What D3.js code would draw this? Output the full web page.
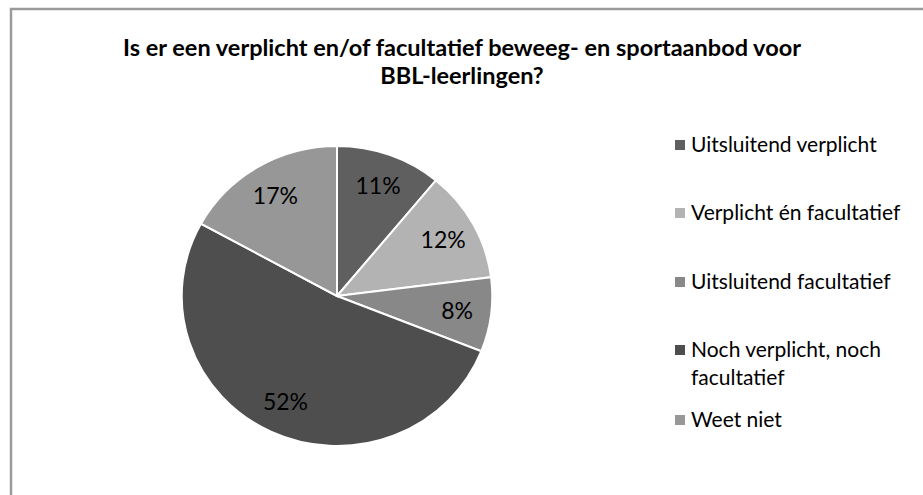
<!DOCTYPE html>
<html><head><meta charset="utf-8">
<script src="https://cdn.jsdelivr.net/npm/d3@7"></script>
<style>body{margin:0;background:#fff}svg{display:block}</style>
</head><body>
<svg id="c" width="923" height="495"></svg>
<script>
const categories = ["Uitsluitend verplicht","Verplicht én facultatief","Uitsluitend facultatief","Noch verplicht, noch facultatief","Weet niet"];
const values = [11,12,8,52,17];
const labels = ["11%","12%","8%","52%","17%"];
const colors = ["#5f5f5f","#b3b3b3","#888888","#4e4e4e","#979797"];
const titleLines = ["Is er een verplicht en/of facultatief beweeg- en sportaanbod  voor","BBL-leerlingen?"];
const legendLines = [["Uitsluitend verplicht"],["Verplicht én facultatief"],["Uitsluitend facultatief"],["Noch verplicht, noch","facultatief"],["Weet niet"]];

const svg = d3.select("#c");
svg.append("path").attr("d","M11,495 V9 H923").attr("fill","none").attr("stroke","#9a9a9a").attr("stroke-width",2.5);

svg.append("text").attr("x",462).attr("text-anchor","middle")
  .attr("font-family","Lato, 'Open Sans', sans-serif").attr("font-weight","bold").attr("font-size",23.5).attr("fill","#000")
  .selectAll("tspan").data(titleLines).join("tspan").attr("x",462).attr("y",(d,i)=>56+i*28).text(d=>d);

const cx=337, cy=296, r=150, sx=1.035;
const pie = d3.pie().sort(null).value(d=>d);
const arcs = pie(values);
const arc = d3.arc().innerRadius(0).outerRadius(r);
const g = svg.append("g").attr("transform",`translate(${cx},${cy}) scale(${sx},1)`);
g.selectAll("path").data(arcs).join("path").attr("d",arc).attr("fill",(d,i)=>colors[i])
  .attr("stroke","#fff").attr("stroke-width",2).attr("vector-effect","non-scaling-stroke");
const labelArc = d3.arc().innerRadius(r*0.78).outerRadius(r*0.78);
svg.append("g").attr("transform",`translate(${cx},${cy})`)
  .selectAll("text").data(arcs).join("text")
  .attr("transform",d=>{const c=labelArc.centroid(d);return `translate(${c[0]*sx},${c[1]})`;})
  .attr("text-anchor","middle").attr("dy","0.36em")
  .attr("font-family","Lato, 'Open Sans', sans-serif").attr("font-size",23).attr("fill","#000")
  .text((d,i)=>labels[i]);

const ly = [145,213,282,350,420];
const leg = svg.append("g");
categories.forEach((c,i)=>{
  leg.append("rect").attr("x",675).attr("y",ly[i]-5).attr("width",10).attr("height",10).attr("fill",colors[i]);
  const t = leg.append("text").attr("font-family","Lato, 'Open Sans', sans-serif").attr("font-size",21).attr("fill","#000");
  legendLines[i].forEach((l,j)=>t.append("tspan").attr("x",691).attr("y",ly[i]+7+j*28).text(l));
});
</script>
</body></html>
